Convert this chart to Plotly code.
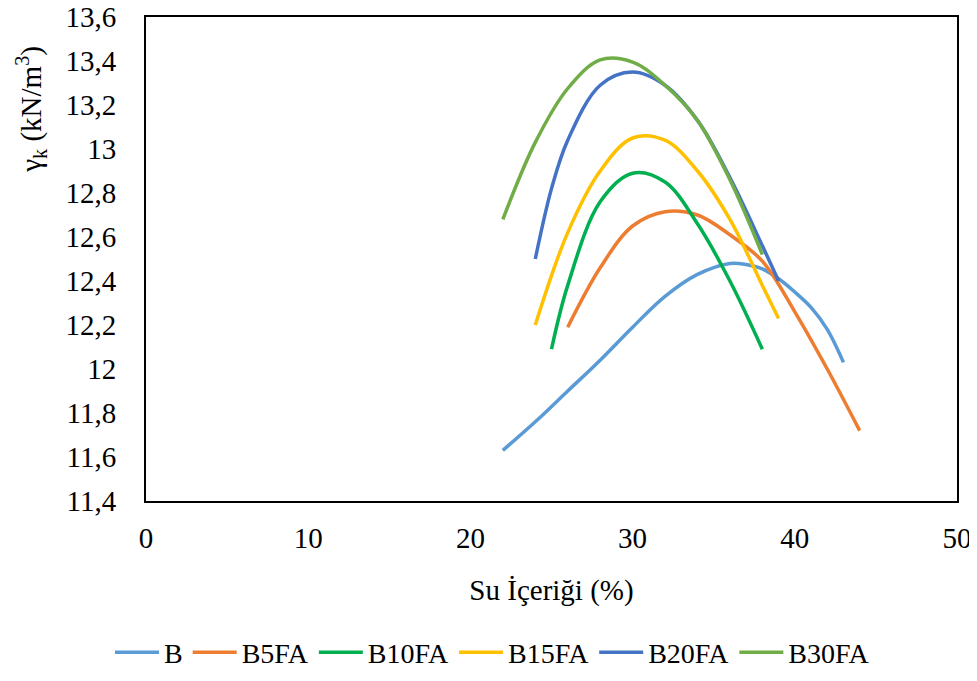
import plotly.graph_objects as go

# Water content (%) and dry unit weight (kN/m3)
B_x = [22, 24, 26, 28, 30, 32, 34, 36, 37, 38, 39, 40, 41, 42, 43]
B_y = [11.63, 11.76, 11.90, 12.04, 12.19, 12.33, 12.43, 12.48, 12.475, 12.455, 12.41, 12.35, 12.28, 12.18, 12.03]

B5FA_x = [26, 28, 30, 32, 34, 36, 38, 40, 42, 44]
B5FA_y = [12.19, 12.46, 12.65, 12.715, 12.70, 12.61, 12.49, 12.26, 12.00, 11.72]

B10FA_x = [25, 26, 28, 30, 32, 34, 36, 38]
B10FA_y = [12.09, 12.38, 12.76, 12.89, 12.85, 12.66, 12.40, 12.09]

B15FA_x = [24, 26, 28, 30, 32, 34, 36, 38, 39]
B15FA_y = [12.20, 12.62, 12.90, 13.05, 13.04, 12.90, 12.68, 12.38, 12.23]

B20FA_x = [24, 25, 26, 28, 30, 32, 34, 36, 38, 39]
B20FA_y = [12.50, 12.82, 13.04, 13.29, 13.35, 13.29, 13.13, 12.87, 12.56, 12.40]

B30FA_x = [22, 24, 26, 28, 30, 32, 34, 36, 38]
B30FA_y = [12.68, 13.03, 13.275, 13.405, 13.395, 13.29, 13.13, 12.86, 12.52]

series_names = ["B", "B5FA", "B10FA", "B15FA", "B20FA", "B30FA"]
series_x = [B_x, B5FA_x, B10FA_x, B15FA_x, B20FA_x, B30FA_x]
series_y = [B_y, B5FA_y, B10FA_y, B15FA_y, B20FA_y, B30FA_y]
colors = ["#5B9BD5", "#ED7D31", "#00B050", "#FFC000", "#4472C4", "#70AD47"]

y_tickvals = [11.4, 11.6, 11.8, 12.0, 12.2, 12.4, 12.6, 12.8, 13.0, 13.2, 13.4, 13.6]
y_ticktext = ["11,4", "11,6", "11,8", "12", "12,2", "12,4", "12,6", "12,8", "13", "13,2", "13,4", "13,6"]
x_tickvals = [0, 10, 20, 30, 40, 50]

x_title = "Su İçeriği (%)"
y_title = "γ<sub>k</sub> (kN/m<sup>3</sup>)"

FONT = "Liberation Serif"
FS = 29

fig = go.Figure()
for name, xs, ys, c in zip(series_names, series_x, series_y, colors):
    fig.add_trace(go.Scatter(
        x=xs, y=ys, name=name, mode="lines",
        line=dict(color=c, width=3.5, shape="spline", smoothing=1.0),
    ))

# page body has an 8px margin, so the figure is 8px smaller on each axis
fig.update_layout(
    width=969, height=673,
    margin=dict(l=138, r=20, t=9, b=180, autoexpand=False),
    paper_bgcolor="white", plot_bgcolor="white",
    font=dict(family=FONT, size=FS, color="black"),
    showlegend=True,
    legend=dict(
        orientation="h", xref="container", yref="container",
        x=0.5, xanchor="center", y=0.005, yanchor="bottom",
        font=dict(family=FONT, size=28, color="black"),
        itemwidth=44, tracegroupgap=0,
    ),
    xaxis=dict(
        range=[0, 50], tickvals=x_tickvals, automargin=False,
        showline=True, linecolor="black", linewidth=2, mirror=True,
        showgrid=False, zeroline=False, ticks="",
        ticklabelstandoff=10, ticklabeloverflow="allow",
        tickfont=dict(family=FONT, size=FS, color="black"),
        title=dict(text=x_title, font=dict(family=FONT, size=FS, color="black"), standoff=27),
    ),
    yaxis=dict(
        range=[11.4, 13.6], tickvals=y_tickvals, ticktext=y_ticktext, automargin=False,
        showline=True, linecolor="black", linewidth=2, mirror=True,
        showgrid=False, zeroline=False, ticks="",
        ticklabelstandoff=22, ticklabeloverflow="allow",
        tickfont=dict(family=FONT, size=FS, color="black"),
    ),
    annotations=[dict(
        text=y_title, xref="paper", yref="paper",
        x=-0.142, y=0.81, xanchor="center", yanchor="middle",
        textangle=-90, showarrow=False,
        font=dict(family=FONT, size=FS, color="black"),
    )],
)

fig.write_html("out.html")
